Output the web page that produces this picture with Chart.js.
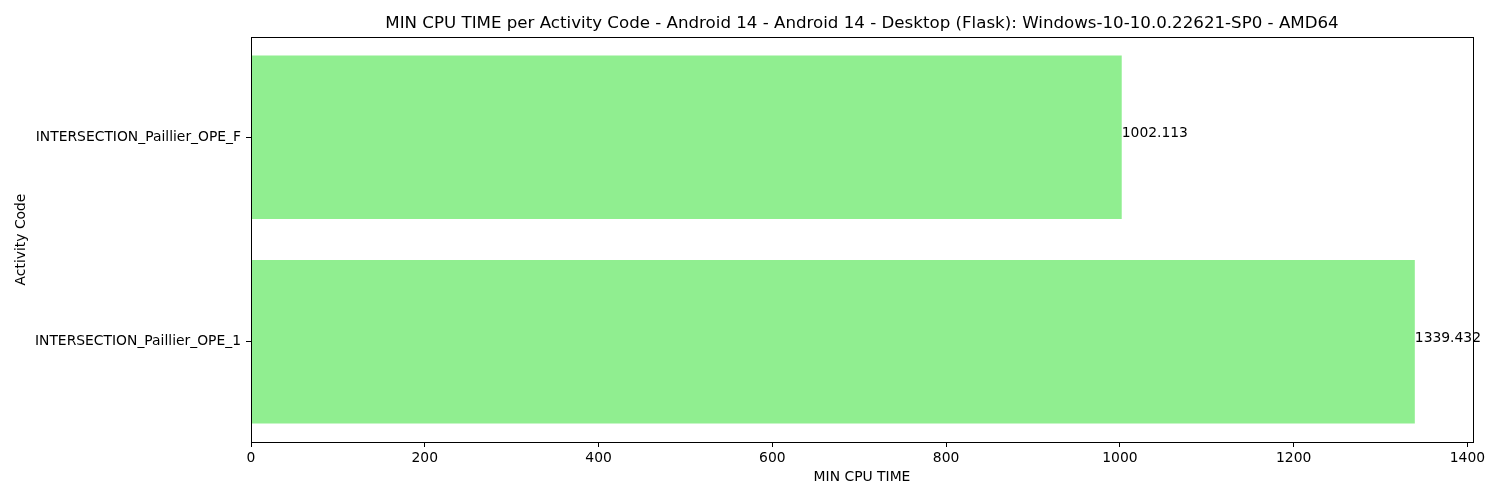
<!DOCTYPE html>
<html>
<head>
<meta charset="utf-8">
<script src="https://cdn.jsdelivr.net/npm/chart.js@4/dist/chart.umd.min.js"></script>
<style>
  html, body { margin: 0; padding: 0; background: #fff; }
  #wrap { width: 1500px; height: 500px; }
</style>
</head>
<body>
<div id="wrap"><canvas id="c" width="1500" height="500"></canvas></div>
<script>
const categories = ['INTERSECTION_Paillier_OPE_1', 'INTERSECTION_Paillier_OPE_F'];
const cpuValues = [1339.432, 1002.113];
const valueLabels = ['1339.432', '1002.113'];
const xTicks = [0, 200, 400, 600, 800, 1000, 1200, 1400];
const titleText = 'MIN CPU TIME per Activity Code - Android 14 - Android 14 - Desktop (Flask): Windows-10-10.0.22621-SP0 - AMD64';

const FONT = 'DejaVu Sans';
const FS = 13.89;
Chart.defaults.font.family = FONT;
Chart.defaults.font.size = FS;
Chart.defaults.color = '#000';

const extrasPlugin = {
  id: 'extras',
  afterDatasetsDraw(chart) {
    const ctx = chart.ctx;
    const meta = chart.getDatasetMeta(0);
    ctx.save();
    ctx.fillStyle = '#000';
    ctx.font = FS + 'px "' + FONT + '"';
    ctx.textAlign = 'left';
    ctx.textBaseline = 'alphabetic';
    meta.data.forEach((bar, i) => {
      ctx.fillText(valueLabels[i], bar.x, bar.y);
    });
    ctx.restore();
  },
  afterDraw(chart) {
    const ctx = chart.ctx;
    const a = chart.chartArea;
    ctx.save();
    ctx.strokeStyle = '#000';
    ctx.lineWidth = 1;
    ctx.strokeRect(Math.round(a.left) + 0.5, Math.round(a.top) + 0.5,
                   Math.round(a.right - a.left), Math.round(a.bottom - a.top));
    ctx.fillStyle = '#000';
    ctx.font = '16.67px "' + FONT + '"';
    ctx.textAlign = 'center';
    ctx.textBaseline = 'middle';
    ctx.fillText(titleText, (a.left + a.right) / 2, 24);
    ctx.restore();
  }
};

new Chart(document.getElementById('c'), {
  type: 'bar',
  data: {
    datasets: [{
      data: cpuValues.map((v, i) => ({ x: v, y: i })),
      backgroundColor: '#90EE90',
      borderWidth: 0,
      barPercentage: 0.8,
      categoryPercentage: 1.0
    }]
  },
  options: {
    indexAxis: 'y',
    responsive: false,
    animation: false,
    layout: { padding: { left: 0, right: 27, top: 37, bottom: 0 } },
    plugins: {
      legend: { display: false },
      tooltip: { enabled: false },
      title: { display: false }
    },
    scales: {
      x: {
        type: 'linear',
        min: 0,
        max: 1406.4,
        afterBuildTicks(scale) { scale.ticks = xTicks.map(v => ({ value: v })); },
        afterFit(scale) { scale.height = 58; },
        ticks: { padding: 3, color: '#000', font: { size: FS }, callback: (v) => String(v) },
        grid: { drawOnChartArea: false, drawTicks: true, tickLength: 5, color: '#000', lineWidth: 1 },
        border: { display: true, color: '#000', width: 1 },
        title: { display: true, text: 'MIN CPU TIME', color: '#000', font: { size: FS }, padding: { top: 0, bottom: 14.5 } }
      },
      y: {
        type: 'linear',
        min: -0.49,
        max: 1.49,
        offset: false,
        afterBuildTicks(scale) { scale.ticks = categories.map((c, i) => ({ value: i })); },
        afterFit(scale) { scale.width = 251; },
        ticks: { padding: 5, color: '#000', font: { size: FS }, callback: (v) => categories[v] },
        grid: { offset: false, drawOnChartArea: false, drawTicks: true, tickLength: 5, color: '#000', lineWidth: 1 },
        border: { display: true, color: '#000', width: 1 },
        title: { display: true, text: 'Activity Code', color: '#000', font: { size: FS }, padding: { top: 13, bottom: 0 } }
      }
    }
  },
  plugins: [extrasPlugin]
});
</script>
</body>
</html>
